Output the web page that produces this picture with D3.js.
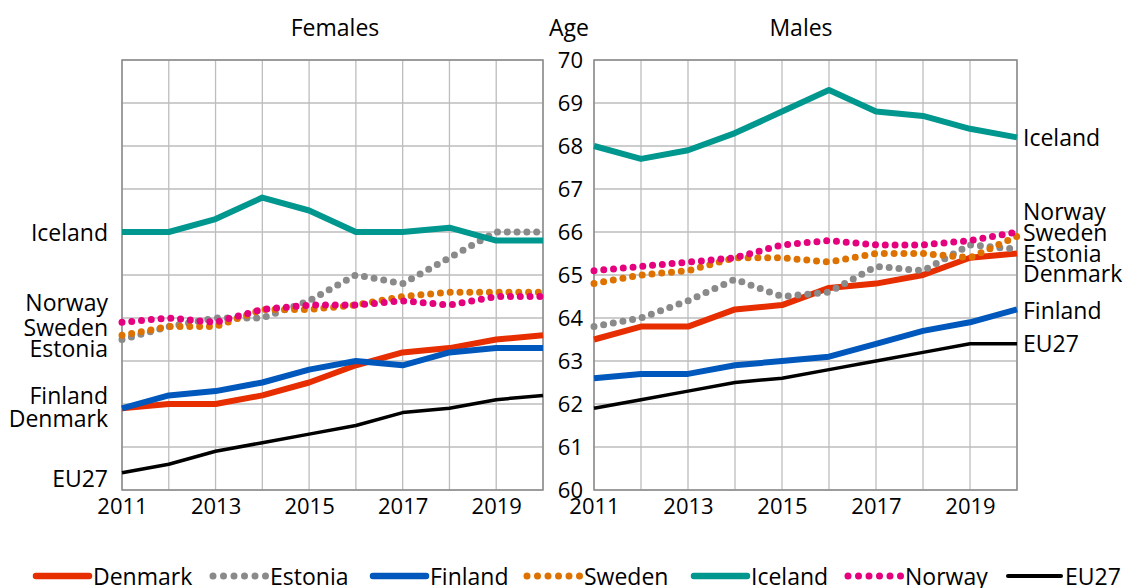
<!DOCTYPE html>
<html><head><meta charset="utf-8">
<script src="https://cdn.jsdelivr.net/npm/d3@7"></script>
<style>
html,body{margin:0;padding:0;background:#fff;}
svg text{font-family:"Open Sans",Lato,sans-serif;fill:#000;}
</style></head>
<body>
<svg id="chart" width="1125" height="588"></svg>
<script>
const years = [2011,2012,2013,2014,2015,2016,2017,2018,2019,2020];
const xTickLabels = ["2011","2013","2015","2017","2019"];
const yTicks = [60,61,62,63,64,65,66,67,68,69,70];
const seriesNames = ["Denmark","Estonia","Finland","Sweden","Iceland","Norway","EU27"];

// Females
const fDenmark = [61.9,62.0,62.0,62.2,62.5,62.9,63.2,63.3,63.5,63.6];
const fEstonia = [63.5,63.8,64.0,64.0,64.4,65.0,64.8,65.4,66.0,66.0];
const fFinland = [61.9,62.2,62.3,62.5,62.8,63.0,62.9,63.2,63.3,63.3];
const fSweden  = [63.6,63.8,63.8,64.2,64.2,64.3,64.5,64.6,64.6,64.6];
const fIceland = [66.0,66.0,66.3,66.8,66.5,66.0,66.0,66.1,65.8,65.8];
const fNorway  = [63.9,64.0,63.9,64.2,64.3,64.3,64.4,64.3,64.5,64.5];
const fEU27    = [60.4,60.6,60.9,61.1,61.3,61.5,61.8,61.9,62.1,62.2];

// Males
const mDenmark = [63.5,63.8,63.8,64.2,64.3,64.7,64.8,65.0,65.4,65.5];
const mEstonia = [63.8,64.0,64.4,64.9,64.5,64.6,65.2,65.1,65.7,65.6];
const mFinland = [62.6,62.7,62.7,62.9,63.0,63.1,63.4,63.7,63.9,64.2];
const mSweden  = [64.8,65.0,65.1,65.4,65.4,65.3,65.5,65.5,65.4,65.9];
const mIceland = [68.0,67.7,67.9,68.3,68.8,69.3,68.8,68.7,68.4,68.2];
const mNorway  = [65.1,65.2,65.3,65.4,65.7,65.8,65.7,65.7,65.8,66.0];
const mEU27    = [61.9,62.1,62.3,62.5,62.6,62.8,63.0,63.2,63.4,63.4];

const styles = {
  Denmark:{color:"#E62E00", dotted:false, w:6},
  Estonia:{color:"#8A8A8A", dotted:true, w:7},
  Finland:{color:"#0058BC", dotted:false, w:6},
  Sweden:{color:"#DD7200", dotted:true, w:7},
  Iceland:{color:"#00978F", dotted:false, w:6},
  Norway:{color:"#E5007D", dotted:true, w:7},
  EU27:{color:"#000000", dotted:false, w:3.5}
};

const femData = {Denmark:fDenmark,Estonia:fEstonia,Finland:fFinland,Sweden:fSweden,Iceland:fIceland,Norway:fNorway,EU27:fEU27};
const maleData = {Denmark:mDenmark,Estonia:mEstonia,Finland:mFinland,Sweden:mSweden,Iceland:mIceland,Norway:mNorway,EU27:mEU27};

const svg = d3.select("#chart");
const y = d3.scaleLinear().domain([60,70]).range([490,60]);
const FS = 22;   // numbers
const FW = 23;   // words

function panel(x0, x1, data, title, titleX, labels, labelSide) {
  const x = d3.scaleLinear().domain([2011,2020]).range([x0,x1]);
  const g = svg.append("g");
  g.selectAll(".vg").data(years).enter().append("line")
    .attr("x1",d=>x(d)).attr("x2",d=>x(d)).attr("y1",y(70)).attr("y2",y(60))
    .attr("stroke","#bdbdbd").attr("stroke-width",1.3);
  g.selectAll(".hg").data(yTicks).enter().append("line")
    .attr("x1",x0).attr("x2",x1).attr("y1",d=>y(d)).attr("y2",d=>y(d))
    .attr("stroke","#bdbdbd").attr("stroke-width",1.3);
  g.append("rect").attr("x",x0).attr("y",y(70)).attr("width",x1-x0).attr("height",y(60)-y(70))
    .attr("fill","none").attr("stroke","#8c8c8c").attr("stroke-width",1.5);
  const xa = d3.axisBottom(x).tickValues(xTickLabels.map(Number)).tickFormat(d=>String(d)).tickSize(0).tickPadding(8);
  const ax = g.append("g").attr("transform",`translate(0,${y(60)})`).call(xa);
  ax.select(".domain").remove();
  ax.selectAll("text").attr("font-size",FS).attr("font-family",null).style("font-family","'Open Sans',Lato,sans-serif").attr("fill","#000");
  const line = d3.line().x((d,i)=>x(years[i])).y(d=>y(d));
  seriesNames.forEach(n=>{
    const s = styles[n];
    const p = g.append("path").datum(data[n]).attr("d",line)
      .attr("fill","none").attr("stroke",s.color).attr("stroke-width",s.w)
      .attr("stroke-linejoin","round");
    if (s.dotted) p.attr("stroke-dasharray","0,9.8").attr("stroke-linecap","round");
  });
  svg.append("text").attr("x",titleX).attr("y",27).attr("text-anchor","middle")
    .attr("dominant-baseline","central").attr("font-size",FW).text(title);
  labels.forEach(l=>{
    const t = svg.append("text").attr("font-size",FW).attr("dominant-baseline","central").text(l.name);
    if (labelSide==="left") t.attr("x",x0-14).attr("text-anchor","end").attr("y",l.y);
    else t.attr("x",x1+6).attr("text-anchor","start").attr("y",l.y);
  });
  return x;
}

const femLabelPos = [
  {name:"Iceland", y:y(fIceland[0])},
  {name:"Norway", y:y(fNorway[0])-20},
  {name:"Sweden", y:y(fSweden[0])-8},
  {name:"Estonia", y:y(fEstonia[0])+8},
  {name:"Finland", y:y(fFinland[0])-13},
  {name:"Denmark", y:y(fDenmark[0])+10},
  {name:"EU27", y:y(fEU27[0])+5}
];
const maleLabelPos = [
  {name:"Iceland", y:y(mIceland[9])},
  {name:"Norway", y:y(mNorway[9])-21},
  {name:"Sweden", y:y(mSweden[9])-4},
  {name:"Estonia", y:y(mEstonia[9])+4},
  {name:"Denmark", y:y(mDenmark[9])+19},
  {name:"Finland", y:y(mFinland[9])+1},
  {name:"EU27", y:y(mEU27[9])-1}
];

panel(122, 543, femData, "Females", 335, femLabelPos, "left");
panel(594, 1017, maleData, "Males", 801, maleLabelPos, "right");

const ya = d3.axisLeft(y).tickValues(yTicks).tickFormat(d=>String(d)).tickSize(0).tickPadding(11);
const ayg = svg.append("g").attr("transform","translate(594,0)").call(ya);
ayg.select(".domain").remove();
ayg.selectAll("text").attr("font-size",FS).style("font-family","'Open Sans',Lato,sans-serif").attr("fill","#000");
svg.append("text").attr("x",569).attr("y",27).attr("text-anchor","middle").attr("dominant-baseline","central").attr("font-size",FW).text("Age");

const legendX = [36,213,373,527,694,848,1008];
const leg = svg.append("g");
seriesNames.forEach((n,i)=>{
  const s = styles[n];
  const lx = legendX[i], ly = 576;
  const l = leg.append("line").attr("x1",lx).attr("x2",lx+53).attr("y1",ly).attr("y2",ly)
    .attr("stroke",s.color).attr("stroke-width",s.dotted?7:(n==="EU27"?4:6.5)).attr("stroke-linecap","round");
  if (s.dotted) l.attr("stroke-dasharray","0,10.5");
  leg.append("text").attr("x",lx+57).attr("y",ly).attr("dominant-baseline","central")
    .attr("font-size",FW).text(n);
});
</script>
</body></html>
